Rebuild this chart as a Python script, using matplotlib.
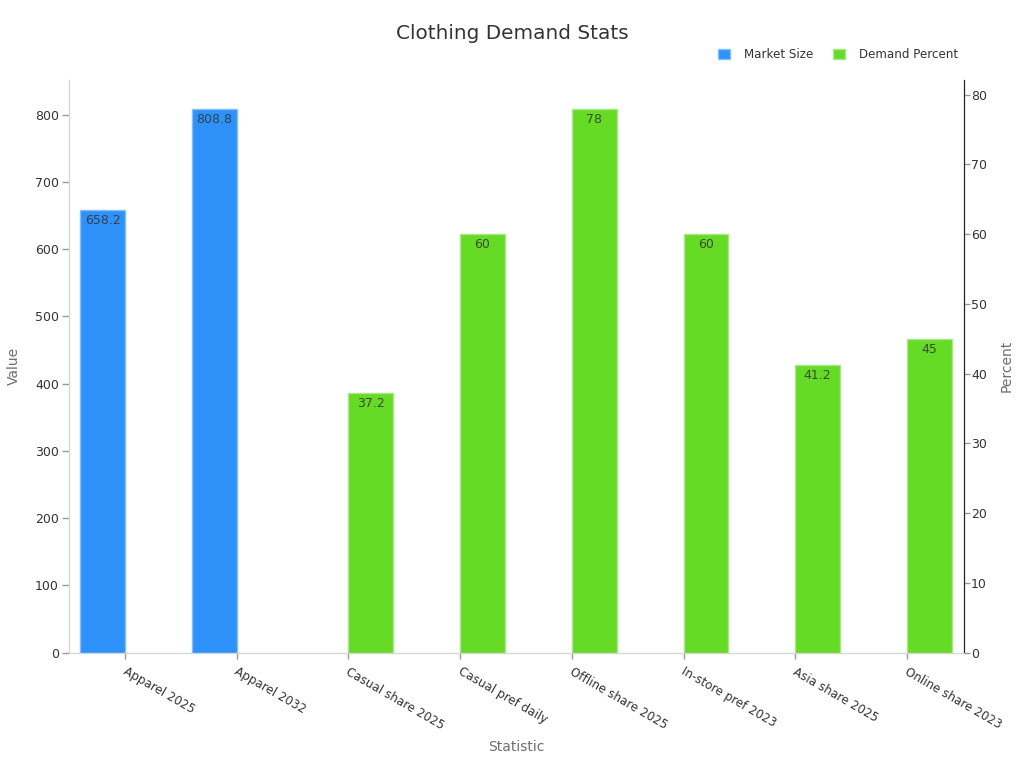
import numpy as np
import matplotlib
matplotlib.use("Agg")
import matplotlib.pyplot as plt
from matplotlib.patches import Patch
from matplotlib.transforms import ScaledTranslation

categories = [
    "Apparel 2025",
    "Apparel 2032",
    "Casual share 2025",
    "Casual pref daily",
    "Offline share 2025",
    "In-store pref 2023",
    "Asia share 2025",
    "Online share 2023",
]
market_size = [658.2, 808.8, None, None, None, None, None, None]
demand_percent = [None, None, 37.2, 60, 78, 60, 41.2, 45]

blue = "#2e92fa"
blue_edge = "#85bdf7"
green = "#66db26"
green_edge = "#a6e888"
text_color = "#333333"
muted = "#6e6e6e"
light = "#d4d4d4"
width = 0.4

fig = plt.figure(figsize=(10.24, 7.68), dpi=100)
ax = fig.add_axes([68.5 / 1024, 1 - 652.5 / 768, 895 / 1024, 572.5 / 768])
ax2 = ax.twinx()
x = np.arange(len(categories))

for i, val in enumerate(market_size):
    if val is None:
        continue
    ax.bar(x[i] - width / 2, val, width, color=blue, edgecolor=blue_edge, linewidth=1)
    ax.annotate(f"{val:g}", (x[i] - width / 2, val), xytext=(0, -3), textcoords="offset points",
                ha="center", va="top", fontsize=9, color="#333333", alpha=0.85)

for i, val in enumerate(demand_percent):
    if val is None:
        continue
    ax2.bar(x[i] + width / 2, val, width, color=green, edgecolor=green_edge, linewidth=1)
    ax2.annotate(f"{val:g}", (x[i] + width / 2, val), xytext=(0, -3), textcoords="offset points",
                 ha="center", va="top", fontsize=9, color="#333333", alpha=0.85)

ax.set_xlim(-0.506, 7.506)
ax.set_ylim(0, 851.4)
ax2.set_ylim(0, 82.1)
ax.set_yticks(range(0, 900, 100))
ax2.set_yticks(range(0, 90, 10))

ax.set_xticks(x)
ax.set_xticklabels(categories, rotation=-30, ha="left", rotation_mode="anchor", fontsize=8.6, color=text_color)
ax.tick_params(axis="x", length=4, width=1, color="#999999", pad=5)
ax.tick_params(axis="y", length=5, width=1, color="#999999", labelsize=9, labelcolor=text_color, pad=2)
ax2.tick_params(axis="y", length=4, width=1, color="#999999", labelsize=9, labelcolor=text_color, pad=1.5)
# nudge the slanted labels to the right of their ticks (tick_params resets transforms, so do it after)
nudge = ScaledTranslation(2 / 100, 0, fig.dpi_scale_trans)
for label in ax.get_xticklabels():
    label.set_transform(label.get_transform() + nudge)

for a in (ax, ax2):
    a.spines["top"].set_visible(False)
    a.spines["left"].set_color(light)
    a.spines["bottom"].set_color(light)
    a.spines["right"].set_color("#222222")

ax.set_xlabel("Statistic", fontsize=10, color=muted, labelpad=6)
ax.set_ylabel("Value", fontsize=10, color=muted, labelpad=10)
ax2.set_ylabel("Percent", fontsize=10, color=muted, labelpad=9)

fig.text(512 / 1024, 1 - 33.5 / 768, "Clothing Demand Stats", ha="center", va="center",
         fontsize=14.4, color=text_color)

handles = [
    Patch(facecolor=blue, edgecolor=blue_edge, label="Market Size"),
    Patch(facecolor=green, edgecolor=green_edge, label="Demand Percent"),
]
fig.legend(handles=handles, loc="center right", bbox_to_anchor=(958 / 1024, 1 - 54.5 / 768), ncol=2, frameon=False,
           fontsize=8.6, handlelength=1, handleheight=1, handletextpad=1.2, columnspacing=1.6,
           labelcolor=text_color, borderpad=0, borderaxespad=0)

fig.savefig("out.png", dpi=100)
